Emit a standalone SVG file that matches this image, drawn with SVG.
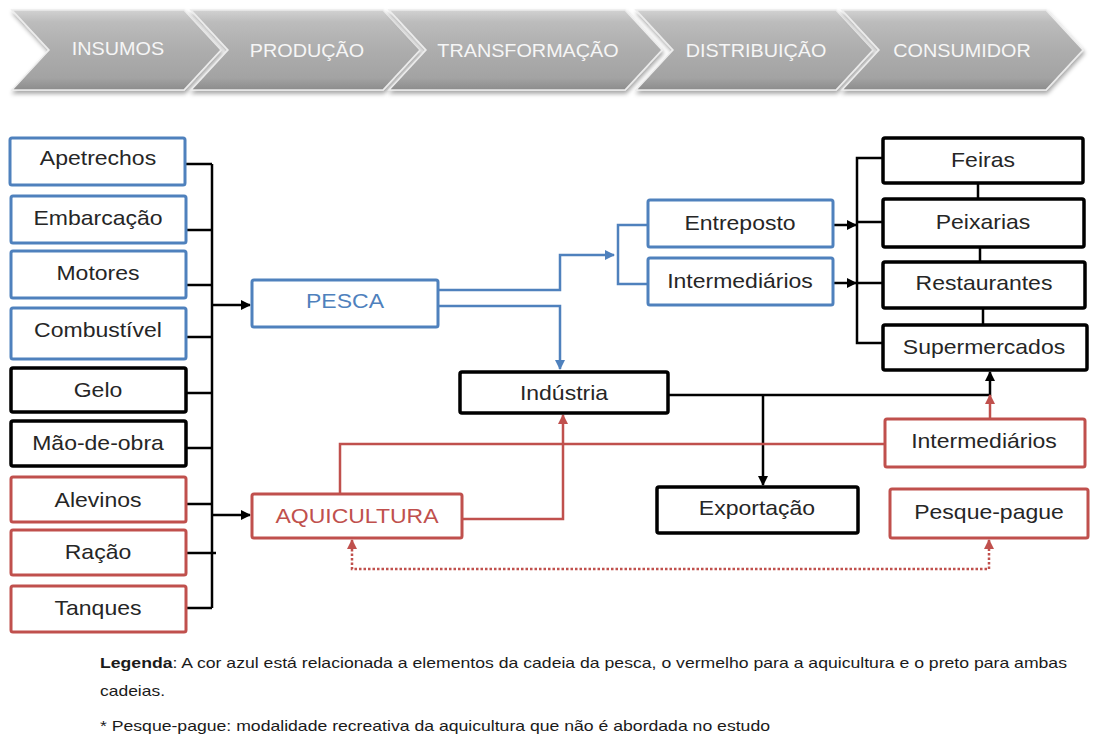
<svg xmlns="http://www.w3.org/2000/svg" width="1095" height="736" viewBox="0 0 1095 736">
<style>
.bx{fill:#fff;stroke-width:3}
.bl{stroke:#4F81BD}
.rd{stroke:#C0504D}
.bk{stroke:#000;stroke-width:3.5}
.t{font-family:"Liberation Sans",Arial,sans-serif;font-size:20px;fill:#262626;text-anchor:middle}
.tb{fill:#4F81BD}
.tr{fill:#C0504D}
.ch{fill:url(#cg);stroke:#ececec;stroke-width:1.5;filter:url(#sh)}
.ct{font-family:"Liberation Sans",Arial,sans-serif;font-size:18px;fill:#f6f6f6;text-anchor:middle}
.ck{fill:none;stroke:#000;stroke-width:2.5}
.cb{fill:none;stroke:#4F81BD;stroke-width:2.5}
.cr{fill:none;stroke:#C0504D;stroke-width:2.5}
.lg{font-family:"Liberation Sans",Arial,sans-serif;font-size:15px;fill:#1a1a1a}
</style>
<defs>
<linearGradient id="cg" x1="0" y1="0" x2="0" y2="1">
<stop offset="0" stop-color="#d2d2d2"/>
<stop offset="0.15" stop-color="#bcbcbc"/>
<stop offset="0.5" stop-color="#adadad"/>
<stop offset="0.85" stop-color="#a3a3a3"/>
<stop offset="1" stop-color="#8c8c8c"/>
</linearGradient>
<filter id="sh" x="-5%" y="-10%" width="115%" height="130%">
<feDropShadow dx="1" dy="3" stdDeviation="2" flood-color="#000" flood-opacity="0.35"/>
</filter>
<marker id="ak" viewBox="0 0 10 10" refX="9" refY="5" markerWidth="10" markerHeight="10" markerUnits="userSpaceOnUse" orient="auto-start-reverse"><path d="M0,0 L10,5 L0,10 z" fill="#000"/></marker>
<marker id="ab" viewBox="0 0 10 10" refX="9" refY="5" markerWidth="10" markerHeight="10" markerUnits="userSpaceOnUse" orient="auto-start-reverse"><path d="M0,0 L10,5 L0,10 z" fill="#4F81BD"/></marker>
<marker id="ar" viewBox="0 0 10 10" refX="9" refY="5" markerWidth="10" markerHeight="10" markerUnits="userSpaceOnUse" orient="auto-start-reverse"><path d="M0,0 L10,5 L0,10 z" fill="#C0504D"/></marker>
</defs>
<rect width="1095" height="736" fill="#fff"/>

<g id="stages">
<g id="s-insumos"><path class="ch" d="M12 10 H184 L221 50 L184 90 H12 L49 50 Z"/><text class="ct" transform="translate(118,55) scale(1.1,1)">INSUMOS</text></g>
<g id="s-producao"><path class="ch" d="M191 10 H383 L420 50 L383 90 H191 L228 50 Z"/><text class="ct" transform="translate(307,57) scale(1.1,1)">PRODUÇÃO</text></g>
<g id="s-transformacao"><path class="ch" d="M389 10 H625 L662 50 L625 90 H389 L426 50 Z"/><text class="ct" transform="translate(528,57) scale(1.1,1)">TRANSFORMAÇÃO</text></g>
<g id="s-distribuicao"><path class="ch" d="M636 10 H836 L873 50 L836 90 H636 L673 50 Z"/><text class="ct" transform="translate(756,57) scale(1.1,1)">DISTRIBUIÇÃO</text></g>
<g id="s-consumidor"><path class="ch" d="M842 10 H1046 L1083 50 L1046 90 H842 L879 50 Z"/><text class="ct" transform="translate(962,57) scale(1.1,1)">CONSUMIDOR</text></g>
</g>

<g id="connectors">
<path class="ck" d="M186 164 H212 M186 230 H212 M186 285 H212 M186 337 H212 M186 393 H212 M186 448 H212 M186 504 H212 M186 553 H216 M186 608 H212 M212 164 V608"/>
<path class="ck" d="M212 305 H250" marker-end="url(#ak)"/>
<path class="ck" d="M212 515 H250" marker-end="url(#ak)"/>
<path class="cb" d="M438 290 H560 V255 H614" marker-end="url(#ab)"/>
<path class="cb" d="M648 225 H618 V284 H648"/>
<path class="cb" d="M438 306 H560 V369" marker-end="url(#ab)"/>
<path class="ck" d="M833 225 H856" marker-end="url(#ak)"/>
<path class="ck" d="M833 283 H856" marker-end="url(#ak)"/>
<path class="ck" d="M883 158 H857 V343 H883 M857 222 H883 M857 283 H883"/>
<path class="ck" d="M978 183 V199 M980 247 V262 M983 308 V325"/>
<path class="ck" d="M668 395 H990 V372" marker-end="url(#ak)"/>
<path class="ck" d="M763 395 V485" marker-end="url(#ak)"/>
<path class="cr" d="M990 419 V395" marker-end="url(#ar)"/>
<path class="cr" d="M340 494 V444 H885"/>
<path class="cr" d="M462 519 H563 V415" marker-end="url(#ar)"/>
<path class="cr" d="M352 540 V569 H989 V540" stroke-dasharray="2.5 2" marker-start="url(#ar)" marker-end="url(#ar)"/>
</g>

<g id="n-apetrechos"><rect class="bx bl" x="10" y="138" width="175" height="47" rx="2"/><text class="t" transform="translate(98,165) scale(1.15,1)">Apetrechos</text></g>
<g id="n-embarcacao"><rect class="bx bl" x="11" y="196" width="175" height="47" rx="2"/><text class="t" transform="translate(98,225) scale(1.15,1)">Embarcação</text></g>
<g id="n-motores"><rect class="bx bl" x="11" y="251" width="175" height="47" rx="2"/><text class="t" transform="translate(98,280) scale(1.15,1)">Motores</text></g>
<g id="n-combustivel"><rect class="bx bl" x="11" y="308" width="175" height="51" rx="2"/><text class="t" transform="translate(98,337) scale(1.15,1)">Combustível</text></g>
<g id="n-gelo"><rect class="bx bk" x="11" y="368" width="175" height="44" rx="2"/><text class="t" transform="translate(98,397) scale(1.15,1)">Gelo</text></g>
<g id="n-maodeobra"><rect class="bx bk" x="11" y="421" width="175" height="45" rx="2"/><text class="t" transform="translate(98,450) scale(1.15,1)">Mão-de-obra</text></g>
<g id="n-alevinos"><rect class="bx rd" x="11" y="477" width="175" height="45" rx="2"/><text class="t" transform="translate(98,507) scale(1.15,1)">Alevinos</text></g>
<g id="n-racao"><rect class="bx rd" x="11" y="530" width="175" height="45" rx="2"/><text class="t" transform="translate(98,559) scale(1.15,1)">Ração</text></g>
<g id="n-tanques"><rect class="bx rd" x="11" y="586" width="175" height="46" rx="2"/><text class="t" transform="translate(98,615) scale(1.15,1)">Tanques</text></g>

<g id="n-pesca"><rect class="bx bl" x="252" y="280" width="186" height="47" rx="2"/><text class="t tb" transform="translate(345,308) scale(1.15,1)">PESCA</text></g>
<g id="n-aquicultura"><rect class="bx rd" x="252" y="494" width="210" height="44" rx="2"/><text class="t tr" transform="translate(357,523) scale(1.15,1)">AQUICULTURA</text></g>
<g id="n-industria"><rect class="bx bk" x="460" y="372" width="208" height="41" rx="2"/><text class="t" transform="translate(564,400) scale(1.15,1)">Indústria</text></g>
<g id="n-exportacao"><rect class="bx bk" x="657" y="487" width="201" height="46" rx="2"/><text class="t" transform="translate(757,515) scale(1.15,1)">Exportação</text></g>
<g id="n-entreposto"><rect class="bx bl" x="648" y="200" width="185" height="47" rx="2"/><text class="t" transform="translate(740,230) scale(1.15,1)">Entreposto</text></g>
<g id="n-intermediarios-pesca"><rect class="bx bl" x="648" y="258" width="185" height="47" rx="2"/><text class="t" transform="translate(740,288) scale(1.15,1)">Intermediários</text></g>
<g id="n-feiras"><rect class="bx bk" x="883" y="138" width="200" height="45" rx="2"/><text class="t" transform="translate(983,167) scale(1.15,1)">Feiras</text></g>
<g id="n-peixarias"><rect class="bx bk" x="883" y="199" width="201" height="48" rx="2"/><text class="t" transform="translate(983,229) scale(1.15,1)">Peixarias</text></g>
<g id="n-restaurantes"><rect class="bx bk" x="883" y="262" width="202" height="46" rx="2"/><text class="t" transform="translate(984,290) scale(1.15,1)">Restaurantes</text></g>
<g id="n-supermercados"><rect class="bx bk" x="883" y="325" width="204" height="45" rx="2"/><text class="t" transform="translate(984,354) scale(1.15,1)">Supermercados</text></g>
<g id="n-intermediarios-aqui"><rect class="bx rd" x="885" y="419" width="200" height="48" rx="2"/><text class="t" transform="translate(984,448) scale(1.15,1)">Intermediários</text></g>
<g id="n-pesquepague"><rect class="bx rd" x="890" y="489" width="198" height="49" rx="2"/><text class="t" transform="translate(989,519) scale(1.15,1)">Pesque-pague</text></g>

<g id="legend">
<text class="lg" x="100" y="668" textLength="967" lengthAdjust="spacingAndGlyphs"><tspan font-weight="bold">Legenda</tspan>: A cor azul está relacionada a elementos da cadeia da pesca, o vermelho para a aquicultura e o preto para ambas</text>
<text class="lg" x="100" y="696" textLength="65" lengthAdjust="spacingAndGlyphs">cadeias.</text>
<text class="lg" x="100" y="731" textLength="670" lengthAdjust="spacingAndGlyphs">* Pesque-pague: modalidade recreativa da aquicultura que não é abordada no estudo</text>
</g>
</svg>
